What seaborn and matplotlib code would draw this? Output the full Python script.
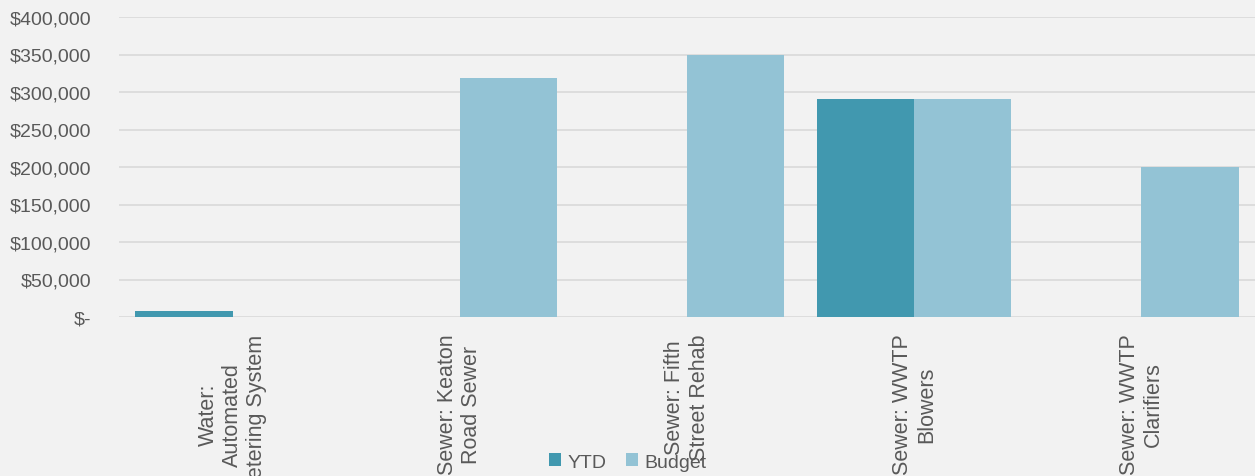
import matplotlib
matplotlib.use("Agg")
import matplotlib.pyplot as plt
import seaborn as sns
import pandas as pd
from matplotlib.patches import Patch
from matplotlib.ticker import FuncFormatter

categories = ["Water:\nAutomated\nMetering System", "Sewer: Keaton\nRoad Sewer",
              "Sewer: Fifth\nStreet Rehab", "Sewer: WWTP\nBlowers", "Sewer: WWTP\nClarifiers"]
ytd = [7500, 0, 0, 291000, 0]
budget = [0, 319000, 349000, 291000, 200000]
series = ["YTD", "Budget"]
colors = ["#4198AF", "#93C3D5"]
yticks = [0, 50000, 100000, 150000, 200000, 250000, 300000, 350000, 400000]

df = pd.DataFrame({
    "cat": categories * 2,
    "series": [series[0]] * len(categories) + [series[1]] * len(categories),
    "value": ytd + budget,
})

sns.set_theme(style="white")
plt.rcParams["font.family"] = ["Liberation Sans", "DejaVu Sans"]
txt = "#595959"
bg = "#F2F2F2"

fig = plt.figure(figsize=(12.55, 4.77), dpi=100, facecolor=bg)
ax = fig.add_axes([119 / 1255, 1 - 318 / 477, 1 - 119 / 1255, 300 / 477])
ax.set_facecolor(bg)

sns.barplot(data=df, x="cat", y="value", hue="series", order=categories,
            hue_order=series, palette=colors, width=0.855, gap=0,
            linewidth=0, saturation=1, ax=ax, legend=False)

ax.set_xlim(-0.5, len(categories) - 0.5)
ax.set_ylim(0, 400000)
ax.set_yticks(yticks)
ax.yaxis.set_major_formatter(FuncFormatter(lambda v, p: "$-" if v == 0 else f"${v:,.0f}"))
ax.grid(axis="y", color="#D9D9D9", linewidth=1.2)
ax.set_axisbelow(True)
for s in ax.spines.values():
    s.set_visible(False)
ax.set_xlabel("")
ax.set_ylabel("")
ax.tick_params(axis="y", length=0, pad=20, labelsize=14, labelcolor=txt)
ax.tick_params(axis="x", length=0, pad=12, labelsize=15.5, labelcolor=txt)
for lab in ax.get_xticklabels():
    lab.set_rotation(90)
    lab.set_multialignment("center")
    lab.set_va("top")
    lab.set_ha("center")

handles = [Patch(facecolor=c, edgecolor="none", label=s) for s, c in zip(series, colors)]
fig.legend(handles=handles, loc="center", bbox_to_anchor=(0.5, 1 - 463 / 477), ncol=2,
           frameon=False, fontsize=14, labelcolor=txt, handlelength=0.65, handleheight=0.65,
           handletextpad=0.3, columnspacing=1.0, borderpad=0)

fig.savefig("out.png", dpi=100, facecolor=bg)
